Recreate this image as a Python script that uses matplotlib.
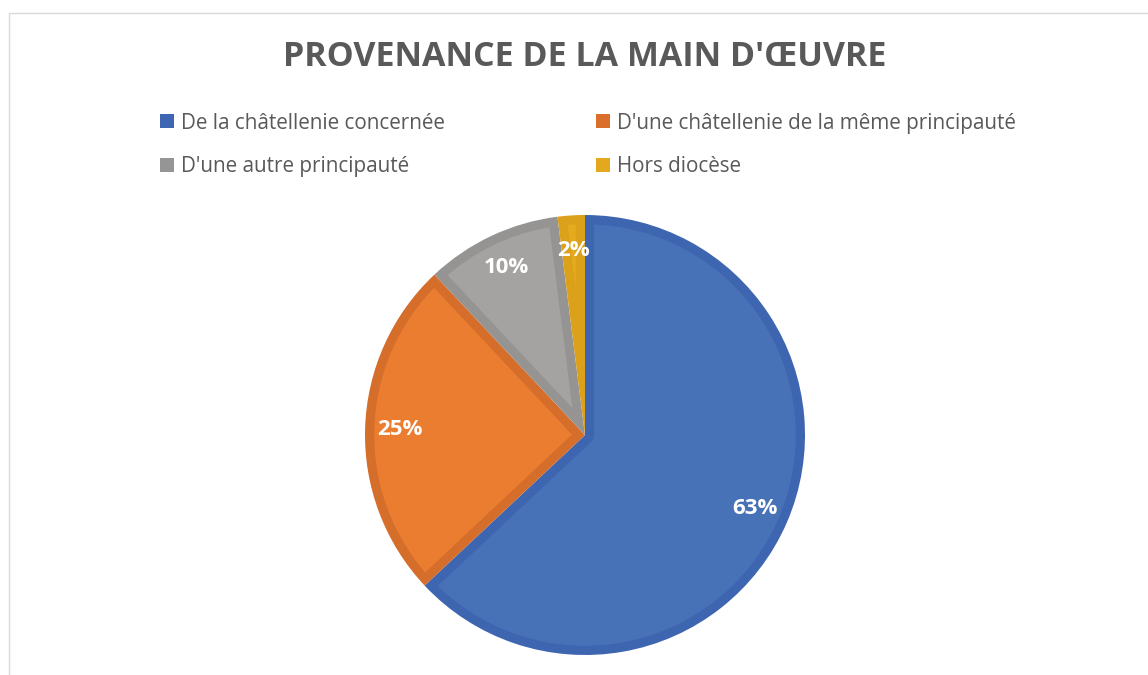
import numpy as np
import matplotlib
matplotlib.use('Agg')
import matplotlib.pyplot as plt
from matplotlib.patches import Patch, Polygon, Rectangle

# Workforce origin shares (percent)
categories = ["De la châtellenie concernée",
              "D'une châtellenie de la même principauté",
              "D'une autre principauté",
              "Hors diocèse"]
shares = [63, 25, 10, 2]
fill_colors = ['#4872B8', '#EB7D30', '#A5A3A1', '#E6AA1E']
edge_colors = ['#3E65B0', '#D56E2A', '#959493', '#DBA11B']
legend_colors = ['#3F66B3', '#D96F2A', '#959595', '#E3A81E']

plt.rcParams['font.family'] = ['Open Sans', 'DejaVu Sans']


def inset_wedge(theta1, theta2, r, d):
    """Outline of a pie slice shrunk inward by d on every side."""
    t1, t2 = np.radians(theta1), np.radians(theta2)
    half = (t2 - t1) / 2
    r_in = r - d
    da = np.arcsin(d / r_in)
    if t2 - t1 - 2 * da <= 0:
        return None
    arc = np.linspace(t1 + da, t2 - da, 200)
    outer = np.column_stack([r_in * np.cos(arc), r_in * np.sin(arc)])
    if half < np.pi / 2:
        dist = d / np.sin(half)
        mid = (t1 + t2) / 2
        apex = np.array([[dist * np.cos(mid), dist * np.sin(mid)]])
        if dist >= r_in:
            return None
        return np.vstack([apex, outer])
    back = np.linspace(t2 - np.pi / 2, t1 + np.pi / 2, 60)
    inner = np.column_stack([d * np.cos(back), d * np.sin(back)])
    return np.vstack([outer, inner])


fig = plt.figure(figsize=(11.48, 6.75), dpi=100)

# light frame around the chart area
fig.patches.append(Rectangle((9 / 1148, -0.1), 1.2, (675 - 13) / 675 + 0.1,
                             transform=fig.transFigure, fill=False,
                             edgecolor='#D9D9D9', linewidth=1))

ax = fig.add_axes([365 / 1148, 20 / 675, 440 / 1148, 440 / 675])
wedges, texts, autotexts = ax.pie(
    shares, colors=edge_colors, startangle=90, counterclock=False,
    autopct='%d%%', pctdistance=0.84, radius=1,
    wedgeprops=dict(linewidth=0),
    textprops=dict(color='white', fontsize=16, fontweight='bold', zorder=5))

# lighter fill inside each slice leaves a darker border around it
border = 0.042
for w, fc in zip(wedges, fill_colors):
    pts = inset_wedge(w.theta1, w.theta2, w.r, border)
    if pts is not None:
        ax.add_patch(Polygon(pts, closed=True, facecolor=fc, edgecolor='none', zorder=2))

ax.set_xlim(-1, 1)
ax.set_ylim(-1, 1)
ax.set_aspect('equal')

fig.text(585 / 1148, 1 - 57 / 675, "PROVENANCE DE LA MAIN D'ŒUVRE",
         ha='center', va='center', fontsize=24.5, fontweight='bold', color='#595959')

# legend entries laid out row by row
order = [0, 2, 1, 3]
handles = [Patch(facecolor=legend_colors[i], edgecolor='none') for i in order]
labels = [categories[i] for i in order]
leg = fig.legend(handles, labels, ncol=2, loc='upper left',
                 bbox_to_anchor=(141 / 1148, 1 - 94 / 675),
                 frameon=False, fontsize=14.9, handlelength=0.68, handleheight=0.68,
                 handletextpad=0.35, columnspacing=7.3, labelspacing=1.1,
                 labelcolor='#595959')

fig.savefig('out.png', dpi=100, facecolor='white')
